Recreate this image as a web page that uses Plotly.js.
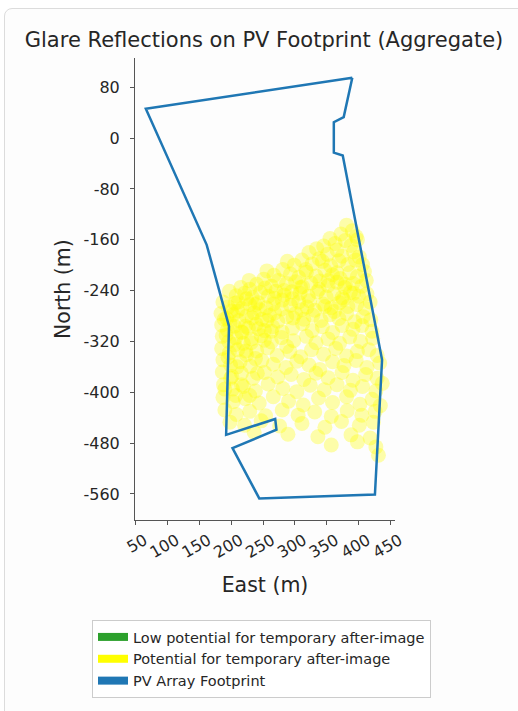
<!DOCTYPE html>
<html>
<head>
<meta charset="utf-8">
<script src="https://cdn.plot.ly/plotly-3.0.1.min.js"></script>
<style>
  html, body { margin: 0; padding: 0; background: #ffffff; }
  #card { position: absolute; left: 4px; top: 8px; width: 600px; height: 800px;
          border: 1px solid #dcdcdc; border-radius: 8px; background: #fdfdfd; }
  #plot { position: absolute; left: 0; top: 0; width: 518px; height: 711px; }
</style>
</head>
<body>
<div id="card"></div>
<div id="plot"></div>
<script>
// PV array footprint polygon (East, North in metres)
const footX = [390, 66, 161.5, 196.5, 192, 269, 271, 202, 244, 425.5, 436.7, 375, 361, 361, 376.5, 390];
const footY = [95, 46, -168, -296, -467, -442, -459, -488, -567, -561, -349, -27.5, -23, 25, 33, 95];

// Glare reflection points (potential for temporary after-image)
const glareX = [
  381,390,372,396,
  355,363,379,388,398,345,
  322,334,351,366,374,392,401,338,
  288,299,311,327,343,356,369,383,395,406,317,
  256,267,281,293,306,318,333,347,359,371,386,398,409,274,
  228,240,251,263,287,301,312,325,339,352,366,378,391,405,412,215,
  197,208,221,233,246,258,270,283,296,308,321,335,349,361,374,387,400,413,229,
  187,195,206,217,229,242,255,266,279,293,306,319,331,344,357,370,383,397,410,418,
  184,193,203,212,224,236,248,260,273,287,301,314,328,341,355,369,381,394,407,419,
  185,194,205,216,227,239,252,265,280,296,312,327,343,359,374,391,405,421,
  186,196,207,219,232,247,263,279,298,318,333,352,370,386,403,422,287,
  185,197,210,224,240,257,272,292,309,326,345,364,381,398,416,429,
  187,199,214,230,248,266,286,303,322,339,359,377,396,413,433,
  186,201,216,234,252,273,294,314,333,352,374,391,411,429,
  188,202,219,238,258,281,303,324,346,366,387,406,427,437,
  187,203,222,244,266,290,313,337,359,381,402,421,434,
  190,208,229,254,280,305,331,357,382,405,426,
  198,221,247,276,311,347,373,401,423,
  236,289,336,388,418,
  357,427,431,398,
  189,198,210,222,233,245,192,205,217,231,243,256,268,195,209,223,238,252,263,
  190,207,199,216,229,241,280,295,309,323,338,352,366,379,392,347,362,376,
  311,297,283,268,253,238,224,211,200
];
const glareY = [
  -137,-146,-151,-155,
  -158,-166,-161,-169,-160,-170,
  -180,-174,-183,-176,-186,-179,-187,-190,
  -194,-200,-192,-198,-194,-201,-193,-199,-192,-199,-207,
  -209,-216,-207,-214,-219,-211,-217,-208,-215,-221,-212,-218,-210,-224,
  -224,-230,-222,-233,-229,-226,-234,-228,-225,-232,-227,-235,-229,-233,-224,-235,
  -241,-248,-244,-251,-243,-249,-241,-247,-253,-244,-249,-242,-250,-245,-251,-243,-249,-245,-238,
  -258,-266,-260,-268,-262,-259,-267,-261,-269,-263,-258,-266,-271,-261,-267,-259,-265,-262,-268,-258,
  -276,-284,-278,-287,-280,-275,-285,-279,-288,-281,-276,-285,-279,-287,-278,-284,-276,-289,-281,-286,
  -294,-302,-296,-305,-299,-293,-303,-297,-305,-299,-292,-303,-297,-306,-295,-301,-295,-304,
  -312,-320,-314,-323,-316,-311,-321,-314,-319,-312,-322,-316,-323,-313,-320,-315,-328,
  -331,-338,-333,-341,-335,-330,-342,-336,-344,-333,-340,-331,-343,-336,-333,-342,
  -349,-357,-352,-359,-350,-356,-361,-351,-357,-364,-352,-358,-350,-361,-354,
  -368,-375,-370,-378,-369,-376,-372,-380,-370,-377,-369,-381,-372,-378,
  -388,-395,-391,-398,-387,-394,-399,-389,-396,-388,-397,-391,-398,-386,
  -408,-415,-410,-417,-407,-414,-420,-409,-416,-407,-419,-411,-421,
  -428,-435,-430,-437,-428,-436,-431,-438,-429,-436,-430,
  -447,-452,-445,-453,-449,-455,-446,-452,-447,
  -463,-466,-470,-467,-472,
  -483,-486,-499,-478,
  -285,-292,-272,-296,-283,-270,-310,-325,-306,-322,-300,-287,-275,-345,-360,-335,-347,-318,-304,
  -395,-405,-378,-388,-405,-370,-255,-242,-235,-256,-238,-224,-212,-230,-244,-265,-273,-254,
  -270,-283,-240,-252,-236,-262,-253,-258,-272
];

// Axis ticks
const xTickVals = [50, 100, 150, 200, 250, 300, 350, 400, 450];
const xTickText = ['50', '100', '150', '200', '250', '300', '350', '400', '450'];
const yTickVals = [80, 0, -80, -160, -240, -320, -400, -480, -560];
const yTickText = ['80', '0', '-80', '-160', '-240', '-320', '-400', '-480', '-560'];

// Legend entries
const legendNames = ['Low potential for temporary after-image', 'Potential for temporary after-image', 'PV Array Footprint'];
const legendColors = ['#2ca02c', '#ffff00', '#1f77b4'];

const FONT = 'DejaVu Sans, sans-serif';
const TXT = '#262626';

const traces = [
  {
    type: 'scatter', mode: 'markers', x: glareX, y: glareY,
    marker: { color: '#ffff00', size: 15, opacity: 0.33, line: { width: 0 } },
    showlegend: false, hoverinfo: 'skip'
  },
  {
    type: 'scatter', mode: 'lines', x: footX, y: footY,
    line: { color: '#1f77b4', width: 2.5 },
    showlegend: false, hoverinfo: 'skip'
  }
];
legendNames.forEach((n, i) => {
  traces.push({
    type: 'scatter', mode: 'lines', x: [null], y: [null], name: n,
    legendgroup: 'g' + i,
    line: { color: legendColors[i], width: 8 }
  });
});

const layout = {
  width: 518, height: 711,
  paper_bgcolor: 'rgba(0,0,0,0)', plot_bgcolor: 'rgba(0,0,0,0)',
  margin: { l: 135, r: 123, t: 58, b: 191, autoexpand: false },
  font: { family: FONT, color: TXT },
  title: {
    text: 'Glare Reflections on PV Footprint (Aggregate)',
    font: { family: FONT, size: 21, color: TXT },
    xref: 'container', yref: 'container', x: 264 / 518, xanchor: 'center',
    y: 1 - 40 / 711, yanchor: 'middle'
  },
  xaxis: {
    range: [49, 457], showgrid: false, zeroline: false, automargin: false,
    showline: true, linecolor: '#555', linewidth: 1,
    ticks: 'outside', ticklen: 4, tickcolor: '#555',
    tickvals: xTickVals, ticktext: xTickText, tickangle: -30,
    ticklabelshift: 9,
    tickfont: { family: FONT, size: 16, color: TXT },
    title: { text: 'East (m)', font: { family: FONT, size: 20.5, color: TXT } }
  },
  yaxis: {
    range: [-601, 126], showgrid: false, zeroline: false, automargin: false,
    showline: true, linecolor: '#555', linewidth: 1,
    ticks: 'outside', ticklen: 4, tickcolor: '#555',
    ticklabelstandoff: 7,
    tickvals: yTickVals, ticktext: yTickText,
    tickfont: { family: FONT, size: 16, color: TXT }
  },
  annotations: [{
    text: 'North (m)', textangle: -90, showarrow: false,
    xref: 'paper', yref: 'paper', x: (63 - 135) / 260, y: 0.5,
    xanchor: 'center', yanchor: 'middle',
    font: { family: FONT, size: 20.5, color: TXT }
  }],
  showlegend: true,
  legend: {
    xref: 'container', yref: 'container',
    x: 92 / 518, y: 1 - 620 / 711, xanchor: 'left', yanchor: 'top',
    bgcolor: '#ffffff', bordercolor: '#cccccc', borderwidth: 1,
    font: { family: FONT, size: 14.5, color: TXT },
    tracegroupgap: 0, itemwidth: 30
  }
};

Plotly.newPlot('plot', traces, layout, { displayModeBar: false, staticPlot: true });
</script>
</body>
</html>
